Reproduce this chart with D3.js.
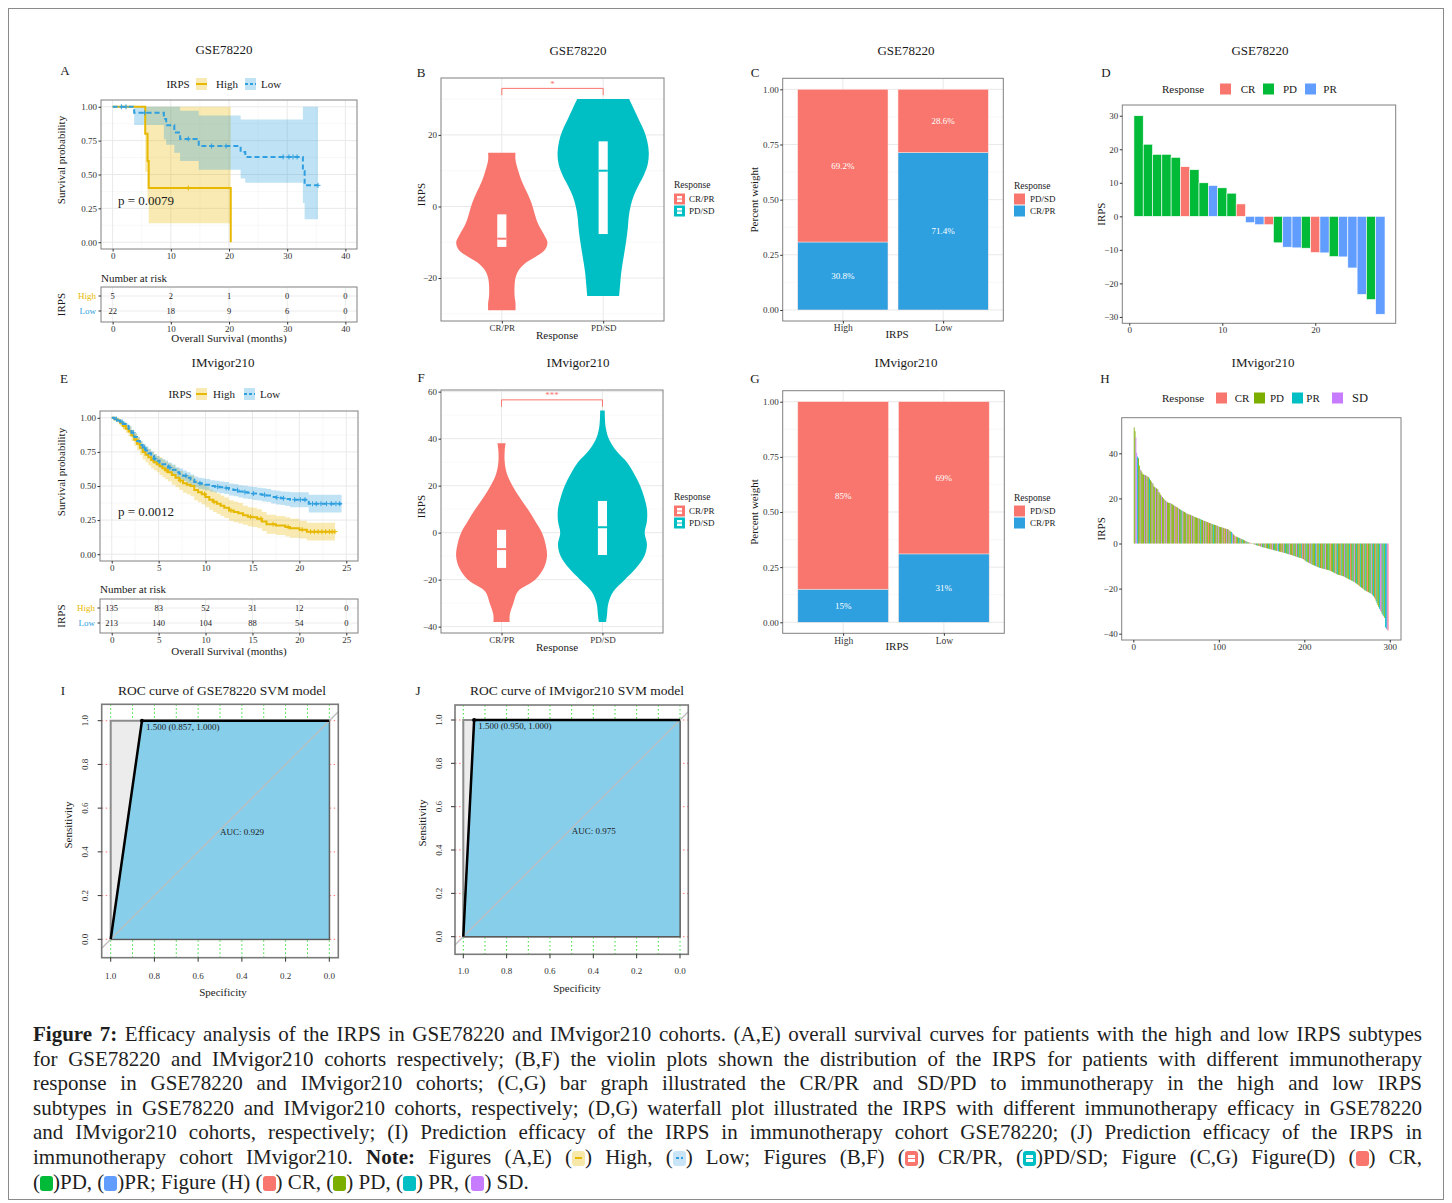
<!DOCTYPE html>
<html>

<head>
    <meta charset='utf-8' />
    <title>Figure 7 - IRPS efficacy in GSE78220 and IMvigor210</title>
    <script src="https://d3js.org/d3.v7.min.js"></script>
    <style>
        body {
            margin: 0;
            background: #fff;
            font-family: 'Liberation Serif', 'Times New Roman', serif;
        }

        #fig {
            position: relative;
            width: 1452px;
            height: 1203px;
        }

        #fig svg {
            position: absolute;
            left: 0;
            top: 0;
        }

        #caption {
            position: absolute;
            left: 33px;
            top: 1022px;
            width: 1389px;
            font-size: 21px;
            line-height: 24.6px;
            color: #1e1e1e;
        }

        #caption div {
            text-align: justify;
            text-align-last: justify;
            white-space: nowrap;
        }

        #caption div.last {
            text-align-last: left;
        }

        .ic {
            display: inline-block;
            position: relative;
            width: 13px;
            height: 15px;
            border-radius: 3px;
            vertical-align: -2px;
        }

        .ic i {
            position: absolute;
            left: 3px;
            top: 4px;
            width: 7px;
            height: 7px;
        }
    </style>
</head>

<body>
    <div id="fig">
        <div id="caption">
            <div><b>Figure 7:</b> Efficacy analysis of the IRPS in GSE78220 and IMvigor210 cohorts. (A,E) overall survival curves for patients with the high and low IRPS subtypes</div>
            <div>for GSE78220 and IMvigor210 cohorts respectively; (B,F) the violin plots shown the distribution of the IRPS for patients with different immunotherapy</div>
            <div>response in GSE78220 and IMvigor210 cohorts; (C,G) bar graph illustrated the CR/PR and SD/PD to immunotherapy in the high and low IRPS</div>
            <div>subtypes in GSE78220 and IMvigor210 cohorts, respectively; (D,G) waterfall plot illustrated the IRPS with different immunotherapy efficacy in GSE78220</div>
            <div>and IMvigor210 cohorts, respectively; (I) Prediction efficacy of the IRPS in immunotherapy cohort GSE78220; (J) Prediction efficacy of the IRPS in</div>
            <div>immunotherapy cohort IMvigor210. <b>Note:</b> Figures (A,E) (<span class="ic" style="background:#f7e8aa"><i style="top:6px;height:2px;background:#E7B800"></i></span>) High, (<span class="ic" style="background:#c9e4f6"><i style="top:6px;height:2px;background:repeating-linear-gradient(to right,#2E9FDF 0 3px,transparent 3px 5px)"></i></span>) Low; Figures (B,F) (<span class="ic" style="background:#F8766D"><i style="background:linear-gradient(#fff 0 40%,#F8766D 40% 60%,#fff 60%)"></i></span>) CR/PR, (<span class="ic" style="background:#00BFC4"><i style="background:linear-gradient(#fff 0 40%,#00BFC4 40% 60%,#fff 60%)"></i></span>)PD/SD; Figure (C,G) Figure(D) (<span class="ic" style="background:#F8766D"></span>) CR,</div>
            <div class="last">(<span class="ic" style="background:#00BA38"></span>)PD, (<span class="ic" style="background:#619CFF"></span>)PR; Figure (H) (<span class="ic" style="background:#F8766D"></span>) CR, (<span class="ic" style="background:#7CAE00"></span>) PD, (<span class="ic" style="background:#00BFC4"></span>) PR, (<span class="ic" style="background:#C77CFF"></span>) SD.</div>
        </div>
    </div>

    <script>
        // ---------------- data ----------------

        // A: GSE78220 overall survival (step curves)
        var kmAHighTime = [0, 5.6, 6.0, 6.2, 20.3]
        var kmAHighSurv = [1, 0.8, 0.6, 0.4, 0]
        var kmAHighLow = [1, 0.52, 0.3, 0.14, 0]
        var kmAHighUp = [1, 1, 1, 1, 0]
        var kmAHighCens = [13.0]
        var kmALowTime = [0, 3.7, 8.8, 9.2, 10.6, 11.6, 14.8, 22.0, 22.8, 32.7, 33.0]
        var kmALowSurv = [1, 0.955, 0.909, 0.864, 0.81, 0.763, 0.71, 0.667, 0.63, 0.525, 0.42]
        var kmALowLow = [1, 0.865, 0.76, 0.72, 0.66, 0.6, 0.535, 0.47, 0.44, 0.29, 0.17]
        var kmALowUp = [1, 1, 1, 1, 1, 0.97, 0.935, 0.906, 0.906, 1, 1]
        var kmALowCens = [1.5, 2.3, 5.5, 13.0, 17.0, 19.5, 29.3, 30.3, 31.0, 31.7, 35.3]
        var kmARiskTimes = [0, 10, 20, 30, 40]
        var kmARiskHigh = [5, 2, 1, 0, 0]
        var kmARiskLow = [22, 18, 9, 6, 0]

        // E: IMvigor210 overall survival
        var kmEHighTime = [0, 0.3, 0.6, 0.9, 1.2, 1.5, 1.8, 2.1, 2.4, 2.7, 3.0, 3.3, 3.6, 3.9, 4.2, 4.5, 4.8, 5.1, 5.4, 5.7,
            6.0, 6.4, 6.8, 7.2, 7.6, 8.0, 8.4, 8.8, 9.2, 9.6, 10.0, 10.4, 10.8, 11.2, 11.6, 12.0, 12.5, 13.0, 13.5, 14.0,
            14.5, 15.0, 15.5, 16.0, 16.5, 17.5, 18.5, 19.0, 20.0, 20.8]
        var kmEHighSurv = [1, 0.99, 0.98, 0.96, 0.94, 0.92, 0.90, 0.87, 0.84, 0.81, 0.78, 0.75, 0.73, 0.71, 0.69, 0.675, 0.66, 0.645, 0.63, 0.615,
            0.60, 0.58, 0.56, 0.54, 0.52, 0.51, 0.50, 0.47, 0.455, 0.44, 0.42, 0.40, 0.385, 0.37, 0.355, 0.34, 0.32, 0.31, 0.30, 0.285,
            0.275, 0.27, 0.26, 0.24, 0.22, 0.21, 0.20, 0.19, 0.18, 0.165]
        var kmEHighHalf = [0, 0.01, 0.015, 0.02, 0.025, 0.03, 0.035, 0.04, 0.045, 0.05, 0.05, 0.055, 0.055, 0.06, 0.06, 0.06, 0.06, 0.065, 0.065, 0.065,
            0.065, 0.07, 0.07, 0.07, 0.07, 0.07, 0.075, 0.075, 0.075, 0.075, 0.075, 0.075, 0.075, 0.075, 0.075, 0.075, 0.075, 0.075, 0.075, 0.07,
            0.07, 0.07, 0.07, 0.07, 0.07, 0.07, 0.07, 0.07, 0.065, 0.065]
        var kmEHighCens = [1.3, 2.6, 4.4, 5.8, 7.3, 9.9, 10.9, 12.7, 14.8, 15.9, 17.2, 18.8, 20.3, 21.2, 21.6, 22.0, 22.4, 22.8, 23.2, 23.5, 23.8]
        var kmELowTime = [0, 0.3, 0.6, 0.9, 1.2, 1.5, 1.8, 2.1, 2.4, 2.7, 3.0, 3.3, 3.6, 3.9, 4.2, 4.5, 4.8, 5.1, 5.4, 5.7,
            6.0, 6.4, 6.8, 7.2, 7.6, 8.0, 8.4, 8.8, 9.2, 9.6, 10.0, 10.5, 11.0, 11.5, 12.0, 12.5, 13.0, 13.5, 14.0, 14.5,
            15.0, 15.5, 16.0, 16.5, 17.0, 17.5, 18.0, 18.5, 19.0, 21.0]
        var kmELowSurv = [1, 0.99, 0.98, 0.97, 0.955, 0.94, 0.92, 0.89, 0.86, 0.83, 0.80, 0.78, 0.76, 0.74, 0.72, 0.70, 0.685, 0.67, 0.66, 0.65,
            0.635, 0.62, 0.60, 0.59, 0.575, 0.56, 0.545, 0.53, 0.52, 0.515, 0.51, 0.50, 0.495, 0.49, 0.485, 0.475, 0.47, 0.46, 0.455, 0.45,
            0.445, 0.44, 0.435, 0.43, 0.42, 0.415, 0.41, 0.405, 0.40, 0.37]
        var kmELowHalf = [0, 0.008, 0.01, 0.012, 0.015, 0.018, 0.02, 0.022, 0.025, 0.027, 0.03, 0.03, 0.032, 0.033, 0.034, 0.035, 0.035, 0.036, 0.036, 0.037,
            0.037, 0.038, 0.038, 0.039, 0.039, 0.04, 0.04, 0.04, 0.041, 0.041, 0.042, 0.042, 0.043, 0.043, 0.044, 0.044, 0.045, 0.045, 0.046, 0.046,
            0.047, 0.047, 0.048, 0.048, 0.049, 0.05, 0.05, 0.052, 0.055, 0.065]
        var kmELowCens = [0.5, 1.1, 2.3, 3.5, 4.6, 6.2, 7.9, 9.4, 11.3, 12.2, 13.4, 14.2, 15.1, 16.3, 17.6, 18.3, 19.5, 20.1, 20.6, 21.4,
            21.8, 22.3, 22.9, 23.4, 23.9, 24.3]
        var kmERiskTimes = [0, 5, 10, 15, 20, 25]
        var kmERiskHigh = [135, 83, 52, 31, 12, 0]
        var kmERiskLow = [213, 140, 104, 88, 54, 0]

        // B / F: violin outlines [IRPS, relative half width] and box stats [q1, median, q3]
        var respGroups = ["CR/PR", "PD/SD"]
        var vioBCR = [[15, 0.30], [13, 0.30], [10, 0.36], [7, 0.44], [4, 0.55], [1, 0.65], [-2, 0.72], [-5, 0.8], [-8, 0.93], [-10, 1.0],
            [-12, 0.95], [-14, 0.75], [-16, 0.5], [-18, 0.36], [-20, 0.3], [-22, 0.28], [-25, 0.28], [-27, 0.3], [-29, 0.3]]
        var vioBPD = [[30, 0.57], [27, 0.68], [24, 0.79], [21, 0.9], [18, 0.97], [15, 1.0], [12, 0.98], [9, 0.9], [6, 0.78], [3, 0.67],
            [0, 0.6], [-3, 0.56], [-6, 0.54], [-10, 0.5], [-14, 0.45], [-18, 0.4], [-22, 0.37], [-25, 0.35]]
        var boxB = [[-11.3, -9.0, -2.2], [-7.7, 10.0, 18.2]]
        var vioFCR = [[38, 0.09], [35, 0.07], [30, 0.07], [25, 0.12], [20, 0.24], [15, 0.4], [10, 0.58], [5, 0.74], [0, 0.89], [-5, 0.97],
            [-10, 1.0], [-15, 0.93], [-20, 0.74], [-25, 0.36], [-30, 0.26], [-35, 0.18], [-38, 0.18]]
        var vioFPD = [[52, 0.05], [45, 0.07], [40, 0.14], [35, 0.3], [30, 0.54], [25, 0.7], [20, 0.83], [15, 0.92], [10, 0.98], [5, 0.98],
            [0, 0.93], [-5, 0.98], [-10, 0.92], [-15, 0.74], [-20, 0.49], [-25, 0.24], [-30, 0.13], [-35, 0.1], [-38, 0.08]]
        var boxF = [[-15.0, -7.0, 1.2], [-9.5, 2.3, 13.5]]

        // C / G: response proportions by IRPS group
        var irpsGroups = ["High", "Low"]
        var cCRPR = [0.308, 0.714]
        var cPDSD = [0.692, 0.286]
        var cLabCRPR = ["30.8%", "71.4%"]
        var cLabPDSD = ["69.2%", "28.6%"]
        var gCRPR = [0.15, 0.31]
        var gPDSD = [0.85, 0.69]
        var gLabCRPR = ["15%", "31%"]
        var gLabPDSD = ["85%", "69%"]

        // D: GSE78220 waterfall
        var dValues = [30.0, 21.5, 18.5, 18.5, 17.6, 14.8, 13.9, 10.0, 9.2, 8.5, 6.9, 3.7, -1.9, -2.5, -2.5, -7.9, -9.2, -9.4, -9.5, -10.8,
            -10.9, -12.0, -12.1, -15.4, -23.3, -24.8, -29.2]
        var dResp = ["PD", "PD", "PD", "PD", "PD", "CR", "PD", "PD", "PR", "PD", "PD", "CR", "PR", "PR", "CR", "PD", "PR", "PR", "PD", "CR",
            "PR", "PD", "PR", "PR", "PR", "PD", "PR"]

        // H: IMvigor210 waterfall (298 patients)
        var hValues = [
            51.5, 49.8, 47.0, 40.2, 38.5, 37.9, 34.6, 32.8, 32.4, 31.6,
            30.9, 30.6, 30.5, 30.3, 30.1, 29.9, 29.6, 29.4, 28.8, 28.1,
            27.5, 26.9, 26.6, 25.4, 25.0, 24.8, 24.5, 24.2, 23.7, 22.9,
            22.3, 21.6, 21.2, 20.6, 20.1, 19.6, 19.3, 19.0, 18.6, 18.3,
            18.1, 18.0, 17.9, 17.8, 17.6, 17.3, 17.0, 16.8, 16.5, 16.3,
            16.2, 15.9, 15.6, 15.3, 15.0, 14.8, 14.6, 14.4, 14.2, 14.0,
            13.7, 13.4, 13.2, 13.0, 12.9, 12.8, 12.7, 12.5, 12.3, 12.1,
            11.9, 11.8, 11.6, 11.5, 11.3, 11.2, 11.1, 10.9, 10.7, 10.5,
            10.4, 10.2, 10.0, 9.9, 9.8, 9.6, 9.5, 9.3, 9.1, 9.0,
            8.8, 8.7, 8.5, 8.4, 8.3, 8.2, 8.1, 7.9, 7.7, 7.5,
            7.4, 7.3, 7.2, 7.1, 7.0, 6.8, 6.7, 6.6, 6.5, 6.4,
            6.2, 5.9, 5.6, 5.3, 5.1, 4.6, 4.1, 3.6, 3.3, 3.1,
            3.0, 2.8, 2.6, 2.5, 2.3, 2.1, 1.9, 1.8, 1.6, 1.4,
            1.2, 1.0, 0.8, 0.6, 0.5, 0.4, 0.3, 0.2, 0.1, -0.1,
            -0.3, -0.5, -0.6, -0.8, -0.9, -1.0, -1.1, -1.2, -1.3, -1.5,
            -1.6, -1.7, -1.8, -1.9, -2.0, -2.1, -2.2, -2.3, -2.4, -2.5,
            -2.6, -2.7, -2.8, -2.9, -3.0, -3.1, -3.2, -3.3, -3.4, -3.5,
            -3.6, -3.7, -3.8, -3.9, -4.0, -4.1, -4.2, -4.3, -4.4, -4.6,
            -4.7, -4.8, -4.9, -5.0, -5.1, -5.3, -5.4, -5.5, -5.6, -5.8,
            -5.9, -6.0, -6.1, -6.3, -6.4, -6.5, -6.6, -6.8, -7.0, -7.3,
            -7.6, -7.9, -8.1, -8.3, -8.5, -8.7, -8.9, -9.1, -9.3, -9.5,
            -9.6, -9.8, -10.0, -10.2, -10.3, -10.5, -10.6, -10.8, -10.9, -11.0,
            -11.1, -11.2, -11.3, -11.4, -11.5, -11.6, -11.7, -11.8, -11.9, -12.0,
            -12.2, -12.4, -12.6, -12.8, -13.0, -13.2, -13.4, -13.6, -13.8, -13.9,
            -14.0, -14.1, -14.2, -14.3, -14.4, -14.6, -14.8, -15.0, -15.2, -15.4,
            -15.6, -15.8, -16.0, -16.2, -16.4, -16.6, -16.8, -17.0, -17.2, -17.5,
            -17.8, -18.1, -18.4, -18.7, -19.0, -19.3, -19.6, -19.9, -20.2, -20.5,
            -20.8, -21.0, -21.2, -21.4, -21.6, -21.8, -22.0, -22.2, -22.5, -22.9,
            -23.4, -24.0, -24.8, -25.6, -26.5, -27.3, -28.2, -29.0, -29.8, -30.5,
            -31.2, -31.8, -32.3, -33.0, -37.2, -37.8, -38.3, -38.6]
        // C = CR, P = PD, R = PR, S = SD
        var hResp = ("PPSSRPPSPP" + "PPSPPSPPRP" + "PSPPPSPPSP" + "PPSPPPSPSP" + "PPPSPPPSPC" +
            "PPSPPRPSPP" + "PSPPPCPSPP" + "SPPPPSPPRP" + "PSPPSPPCPP" + "SPPRPPSPPS" +
            "PPPSPPCPSP" + "PSPPRSPPSC" + "PPRPSPPRPP" + "SPRPPSCPPR" + "PPSPRPPCPS" +
            "PRPPSPPRPP" + "CPSPRPPPSR" + "PPCPPSPRPP" + "RPSPPCPRPP" + "SPRPPPRCPS" +
            "PPRPPSPCRP" + "PPRSPPPRPC" + "PPRPSPPRPP" + "CPPRPPSPRP" + "PCPRPPSPRP" +
            "PPRCPPRPSP" + "RPPCPRPPSP" + "PRPCPPRPSP" + "RPCPRPPRSC" + "RPRPRRSC").split("")

        // I / J: ROC curves
        var rocISpec = [1.0, 0.857, 0.0]
        var rocISens = [0.0, 1.0, 1.0]
        var rocJSpec = [1.0, 0.950, 0.0]
        var rocJSens = [0.0, 1.0, 1.0]

        // ---------------- drawing ----------------
        var serif = "'Liberation Serif', 'Times New Roman', serif"
        var svg = d3.select("#fig").append("svg").attr("width", 1452).attr("height", 1203)
            .attr("font-family", serif)

        svg.append("rect").attr("x", 8.5).attr("y", 8.5).attr("width", 1435).attr("height", 1191)
            .attr("fill", "none").attr("stroke", "#8a8a8a")

        function label(g, x, y, s, size, opt) {
            opt = opt || {}
            var t = g.append("text").attr("x", x).attr("y", y).attr("dy", "0.35em")
                .attr("text-anchor", opt.anchor || "middle")
                .attr("font-size", size).attr("fill", opt.fill || "#1a1a1a")
                .text(s)
            if (opt.rotate) t.attr("transform", "rotate(" + opt.rotate + "," + x + "," + y + ")")
            if (opt.weight) t.attr("font-weight", opt.weight)
            return t
        }

        function gridLines(g, x, y, xMaj, xMin, yMaj, yMin) {
            var x0 = x.range()[0], x1 = x.range()[1], yb = y.range()[0], yt = y.range()[1]
            function add(vals, vertical, col, w) {
                g.append("g").selectAll("line").data(vals).join("line")
                    .attr("x1", function (d) { return vertical ? x(d) : x0 })
                    .attr("x2", function (d) { return vertical ? x(d) : x1 })
                    .attr("y1", function (d) { return vertical ? yt : y(d) })
                    .attr("y2", function (d) { return vertical ? yb : y(d) })
                    .attr("stroke", col).attr("stroke-width", w)
            }
            add(xMin, true, "#f4f4f4", 0.6)
            add(yMin, false, "#f4f4f4", 0.6)
            add(xMaj, true, "#e9e9e9", 1)
            add(yMaj, false, "#e9e9e9", 1)
        }

        function boxRect(g, x, y, col, w) {
            var x0 = x.range()[0], x1 = x.range()[1], yb = y.range()[0], yt = y.range()[1]
            g.append("rect").attr("x", x0).attr("y", yt).attr("width", x1 - x0).attr("height", yb - yt)
                .attr("fill", "none").attr("stroke", col || "#808080").attr("stroke-width", w || 1)
        }

        function axisL(g, y, xpos, vals, fmt, size) {
            var a = g.append("g").attr("transform", "translate(" + xpos + ",0)")
                .call(d3.axisLeft(y).tickValues(vals).tickSize(2.5).tickPadding(1.5).tickFormat(fmt))
            a.select(".domain").remove()
            a.attr("font-family", serif).attr("font-size", size || 9)
            a.selectAll("line").attr("stroke", "#333")
            a.selectAll("text").attr("fill", "#333")
            return a
        }

        function axisB(g, x, ypos, vals, fmt, size) {
            var a = g.append("g").attr("transform", "translate(0," + ypos + ")")
                .call(d3.axisBottom(x).tickValues(vals).tickSize(2.5).tickPadding(1).tickFormat(fmt))
            a.select(".domain").remove()
            a.attr("font-family", serif).attr("font-size", size || 9)
            a.selectAll("line").attr("stroke", "#333")
            a.selectAll("text").attr("fill", "#333")
            return a
        }

        // ---------- Kaplan-Meier panels ----------
        function drawKM(p) {
            var g = svg.append("g")
            var x = d3.scaleLinear().domain(p.xDom).range([p.box[0], p.box[1]])
            var y = d3.scaleLinear().domain([-0.05, 1.05]).range([p.box[3], p.box[2]])
            var st = p.xTicks[1] - p.xTicks[0]
            label(g, p.title[0], p.title[1], p.titleText, 13)
            label(g, p.letter[0], p.letter[1], p.letterText, 13)

            gridLines(g, x, y, p.xTicks, p.xTicks.slice(1).map(function (v) { return v - st / 2 }),
                [0, 0.25, 0.5, 0.75, 1], [0.125, 0.375, 0.625, 0.875])

            function rows(s) {
                var r = s.t.map(function (t, i) { return { t: t, s: s.s[i], lo: s.lo[i], hi: s.hi[i] } })
                var last = r[r.length - 1]
                r.push({ t: s.end, s: last.s, lo: last.lo, hi: last.hi })
                return r
            }
            var band = d3.area().curve(d3.curveStepAfter)
                .x(function (d) { return x(d.t) }).y0(function (d) { return y(d.lo) }).y1(function (d) { return y(d.hi) })
            var line = d3.line().curve(d3.curveStepAfter)
                .x(function (d) { return x(d.t) }).y(function (d) { return y(d.s) })

            p.series.forEach(function (s) {
                g.append("path").attr("d", band(rows(s))).attr("fill", s.color).attr("fill-opacity", 0.3)
            })
            p.series.forEach(function (s) {
                g.append("path").attr("d", line(rows(s))).attr("fill", "none").attr("stroke", s.color)
                    .attr("stroke-width", 2).attr("stroke-dasharray", s.dash || null)
                var at = function (t) { return s.s[d3.bisectRight(s.t, t) - 1] }
                g.append("path").attr("d", s.cens.map(function (t) {
                    return "M" + (x(t) - 2.5) + "," + y(at(t)) + "h5M" + x(t) + "," + (y(at(t)) - 2.5) + "v5"
                }).join("")).attr("stroke", s.color).attr("stroke-width", 1)
            })
            boxRect(g, x, y)
            axisL(g, y, p.box[0], [0, 0.25, 0.5, 0.75, 1], d3.format(".2f"))
            axisB(g, x, p.box[3], p.xTicks, d3.format("d"))
            label(g, p.ytitle[0], p.ytitle[1], "Survival probability", 11, { rotate: -90 })
            label(g, p.pval[0], p.pval[1], p.pText, 13)

            // legend
            label(g, p.leg.irps, p.leg.y, "IRPS", 11)
            p.series.forEach(function (s, k) {
                var sx = p.leg.sw[k]
                g.append("rect").attr("x", sx).attr("y", p.leg.y - 6).attr("width", 11).attr("height", 12)
                    .attr("fill", s.color).attr("fill-opacity", 0.3)
                g.append("line").attr("x1", sx).attr("x2", sx + 11).attr("y1", p.leg.y).attr("y2", p.leg.y)
                    .attr("stroke", s.color).attr("stroke-width", 2).attr("stroke-dasharray", s.dash ? "3,2" : null)
                label(g, p.leg.tx[k], p.leg.y, s.name, 11)
            })

            // risk table
            label(g, p.box[0], p.riskTitle, "Number at risk", 11, { anchor: "start" })
            g.append("g").selectAll("line").data(p.riskTimes).join("line")
                .attr("x1", function (d) { return x(d) }).attr("x2", function (d) { return x(d) })
                .attr("y1", p.risk[0]).attr("y2", p.risk[1]).attr("stroke", "#ececec")
            g.append("g").selectAll("line").data(p.rowY).join("line")
                .attr("x1", p.box[0]).attr("x2", p.box[1]).attr("y1", function (d) { return d }).attr("y2", function (d) { return d })
                .attr("stroke", "#ececec")
            g.append("rect").attr("x", p.box[0]).attr("y", p.risk[0]).attr("width", p.box[1] - p.box[0])
                .attr("height", p.risk[1] - p.risk[0]).attr("fill", "none").attr("stroke", "#808080")
            p.series.forEach(function (s, k) {
                var ry = p.rowY[k]
                s.risk.forEach(function (n, i) { label(g, x(p.riskTimes[i]), ry, n, 8.5, { fill: "#222" }) })
                g.append("line").attr("x1", p.box[0] - 2.5).attr("x2", p.box[0]).attr("y1", ry).attr("y2", ry).attr("stroke", "#333")
                label(g, p.box[0] - 5, ry, s.name, 9, { anchor: "end", fill: s.color })
            })
            axisB(g, x, p.risk[1], p.riskTimes, d3.format("d"))
            label(g, p.ytitle[0], (p.risk[0] + p.risk[1]) / 2, "IRPS", 11, { rotate: -90 })
            label(g, (p.box[0] + p.box[1]) / 2, p.xtitle, "Overall Survival (months)", 11)
        }

        var yellow = "#E7B800", blue = "#2E9FDF"

        drawKM({
            titleText: "GSE78220", title: [224, 49], letterText: "A", letter: [65, 70],
            box: [101, 357, 100, 249], xDom: [-2, 42], xTicks: [0, 10, 20, 30, 40],
            ytitle: [61, 160], pval: [146, 200], pText: "p = 0.0079",
            leg: { y: 84, irps: 178, sw: [196, 245], tx: [227, 271] },
            riskTitle: 278, risk: [287, 322], rowY: [296, 311], riskTimes: kmARiskTimes, xtitle: 338,
            series: [
                { name: "High", color: yellow, t: kmAHighTime, s: kmAHighSurv, lo: kmAHighLow, hi: kmAHighUp, end: 20.3, cens: kmAHighCens, risk: kmARiskHigh },
                { name: "Low", color: blue, dash: "5,3", t: kmALowTime, s: kmALowSurv, lo: kmALowLow, hi: kmALowUp, end: 35.3, cens: kmALowCens, risk: kmARiskLow }
            ]
        })

        drawKM({
            titleText: "IMvigor210", title: [223, 362], letterText: "E", letter: [64, 378],
            box: [100, 358, 411, 561], xDom: [-1.25, 26.25], xTicks: [0, 5, 10, 15, 20, 25],
            ytitle: [61, 472], pval: [146, 511], pText: "p = 0.0012",
            leg: { y: 394, irps: 180, sw: [196, 244], tx: [224, 270] },
            riskTitle: 589, risk: [599, 633], rowY: [608, 623], riskTimes: kmERiskTimes, xtitle: 651,
            series: [
                {
                    name: "High", color: yellow, t: kmEHighTime, s: kmEHighSurv, end: 23.8, cens: kmEHighCens, risk: kmERiskHigh,
                    lo: kmEHighSurv.map(function (v, i) { return v - kmEHighHalf[i] }), hi: kmEHighSurv.map(function (v, i) { return v + kmEHighHalf[i] })
                },
                {
                    name: "Low", color: blue, dash: "5,3", t: kmELowTime, s: kmELowSurv, end: 24.5, cens: kmELowCens, risk: kmERiskLow,
                    lo: kmELowSurv.map(function (v, i) { return v - kmELowHalf[i] }), hi: kmELowSurv.map(function (v, i) { return v + kmELowHalf[i] })
                }
            ]
        })

        // ---------- violin panels ----------
        var respColors = ["#F8766D", "#00BFC4"]

        function drawViolin(p) {
            var g = svg.append("g")
            var x = d3.scaleLinear().domain([0.4, 2.6]).range([p.box[0], p.box[1]])
            var y = d3.scaleLinear().domain(p.yDom).range([p.box[3], p.box[2]])
            label(g, p.title[0], p.title[1], p.titleText, 13)
            label(g, p.letter[0], p.letter[1], p.letterText, 13)
            var st = p.yTicks[1] - p.yTicks[0]
            var yMin = p.yTicks.map(function (v) { return v - st / 2 }).concat([p.yTicks[p.yTicks.length - 1] + st / 2])
                .filter(function (v) { return v > p.yDom[0] && v < p.yDom[1] })
            gridLines(g, x, y, [1, 2], [], p.yTicks, yMin)

            p.shapes.forEach(function (prof, k) {
                var cx = k + 1
                var area = d3.area().curve(d3.curveCatmullRom)
                    .y(function (d) { return y(d[0]) })
                    .x0(function (d) { return x(cx - d[1] * 0.45) })
                    .x1(function (d) { return x(cx + d[1] * 0.45) })
                g.append("path").attr("d", area(prof)).attr("fill", respColors[k])
                var b = p.boxes[k], bw = 0.045
                g.append("rect").attr("x", x(cx - bw)).attr("width", x(cx + bw) - x(cx - bw))
                    .attr("y", y(b[2])).attr("height", y(b[0]) - y(b[2])).attr("fill", "#fff")
                g.append("line").attr("x1", x(cx - bw)).attr("x2", x(cx + bw)).attr("y1", y(b[1])).attr("y2", y(b[1]))
                    .attr("stroke", respColors[k]).attr("stroke-width", 2)
            })

            // significance bracket
            g.append("path").attr("d", "M" + x(1) + "," + y(p.bracket[1]) + "V" + y(p.bracket[0]) + "H" + x(2) + "V" + y(p.bracket[1]))
                .attr("fill", "none").attr("stroke", "#F8766D").attr("stroke-width", 1)
            label(g, x(1.5), y(p.bracket[0]) - 5, p.stars, 9, { fill: "#F8766D" })

            boxRect(g, x, y)
            axisL(g, y, p.box[0], p.yTicks, d3.format("d"))
            axisB(g, x, p.box[3], [1, 2], function (d) { return respGroups[d - 1] })
            label(g, 421, (p.box[2] + p.box[3]) / 2 - 5, "IRPS", 11, { rotate: -90 })
            label(g, 557, p.xtitle, "Response", 11)

            label(g, 674, p.legY[0], "Response", 9.5, { anchor: "start" })
            respGroups.forEach(function (r, k) {
                var ly = p.legY[k + 1]
                g.append("rect").attr("x", 674).attr("y", ly - 5.5).attr("width", 11).attr("height", 11).attr("fill", respColors[k])
                g.append("rect").attr("x", 677).attr("y", ly - 3).attr("width", 5).attr("height", 6).attr("fill", "#fff")
                g.append("line").attr("x1", 677).attr("x2", 682).attr("y1", ly).attr("y2", ly).attr("stroke", respColors[k]).attr("stroke-width", 1)
                label(g, 689, ly, r, 9, { anchor: "start" })
            })
        }

        drawViolin({
            titleText: "GSE78220", title: [578, 50], letterText: "B", letter: [421, 72],
            box: [441, 664, 78, 321], yDom: [-32, 35.9], yTicks: [-20, 0, 20],
            shapes: [vioBCR, vioBPD], boxes: boxB, bracket: [33.0, 31.1], stars: "*",
            xtitle: 335, legY: [185, 199, 211]
        })
        drawViolin({
            titleText: "IMvigor210", title: [578, 362], letterText: "F", letter: [421, 377],
            box: [441, 663, 390, 633], yDom: [-42.7, 60.7], yTicks: [-40, -20, 0, 20, 40, 60],
            shapes: [vioFCR, vioFPD], boxes: boxF, bracket: [56.5, 53.6], stars: "***",
            xtitle: 647, legY: [497, 511, 523]
        })

        // ---------- stacked proportion bars ----------
        var stackColors = { pd: "#F8766D", cr: "#2E9FDF" }

        function drawStack(p) {
            var g = svg.append("g")
            var x = d3.scaleLinear().domain([0.4, 2.6]).range([p.box[0], p.box[1]])
            var y = d3.scaleLinear().domain([-0.05, 1.05]).range([p.box[3], p.box[2]])
            label(g, p.title[0], p.title[1], p.titleText, 13)
            label(g, p.letter[0], p.letter[1], p.letterText, 13)
            gridLines(g, x, y, [1, 2], [], [0, 0.25, 0.5, 0.75, 1], [0.125, 0.375, 0.625, 0.875])
            irpsGroups.forEach(function (grp, i) {
                var cx = i + 1, cr = p.crpr[i], pd = p.pdsd[i]
                g.append("rect").attr("x", x(cx - 0.45)).attr("width", x(cx + 0.45) - x(cx - 0.45))
                    .attr("y", y(cr)).attr("height", y(0) - y(cr)).attr("fill", stackColors.cr)
                    .attr("stroke", "#fde3df").attr("stroke-width", 0.5)
                g.append("rect").attr("x", x(cx - 0.45)).attr("width", x(cx + 0.45) - x(cx - 0.45))
                    .attr("y", y(cr + pd)).attr("height", y(cr) - y(cr + pd)).attr("fill", stackColors.pd)
                    .attr("stroke", "#fde3df").attr("stroke-width", 0.5)
                label(g, x(cx), y(cr / 2), p.labCR[i], 9, { fill: "#fff" })
                label(g, x(cx), y(cr + pd / 2), p.labPD[i], 9, { fill: "#fff" })
            })
            boxRect(g, x, y)
            axisL(g, y, p.box[0], [0, 0.25, 0.5, 0.75, 1], d3.format(".2f"))
            axisB(g, x, p.box[3], [1, 2], function (d) { return irpsGroups[d - 1] }, 9.5)
            label(g, 754, (p.box[2] + p.box[3]) / 2, "Percent weight", 11, { rotate: -90 })
            label(g, 897, p.xtitle, "IRPS", 11)
            label(g, 1014, p.legY[0], "Response", 9.5, { anchor: "start" })
            var keys = [["PD/SD", stackColors.pd], ["CR/PR", stackColors.cr]]
            keys.forEach(function (k, i) {
                var ly = p.legY[i + 1]
                g.append("rect").attr("x", 1014).attr("y", ly - 5.5).attr("width", 11).attr("height", 11).attr("fill", k[1])
                label(g, 1030, ly, k[0], 9, { anchor: "start" })
            })
        }

        drawStack({
            titleText: "GSE78220", title: [906, 50], letterText: "C", letter: [755, 72],
            box: [782.7, 1003.3, 78.3, 321], crpr: cCRPR, pdsd: cPDSD, labCR: cLabCRPR, labPD: cLabPDSD,
            xtitle: 334, legY: [186, 199, 211]
        })
        drawStack({
            titleText: "IMvigor210", title: [906, 362], letterText: "G", letter: [755, 378],
            box: [782.7, 1004.3, 390.7, 633.3], crpr: gCRPR, pdsd: gPDSD, labCR: gLabCRPR, labPD: gLabPDSD,
            xtitle: 646, legY: [498, 511, 523]
        })

        // ---------- waterfall panels ----------
        function drawWaterfall(p) {
            var g = svg.append("g")
            var x = d3.scaleLinear().domain(p.xDom).range([p.box[0], p.box[1]])
            var y = d3.scaleLinear().domain(p.yDom).range([p.box[3], p.box[2]])
            label(g, p.title[0], p.title[1], p.titleText, 13)
            label(g, p.letter[0], p.letter[1], p.letterText, 13)
            g.append("g").selectAll("rect").data(p.values).join("rect")
                .attr("x", function (d, i) { return x(i + 0.5) })
                .attr("width", x(1) - x(0))
                .attr("y", function (d) { return y(Math.max(0, d)) })
                .attr("height", function (d) { return Math.abs(y(d) - y(0)) })
                .attr("fill", function (d, i) { return p.colors[p.resp[i]] || p.colors.P })
                .attr("stroke", p.stroke || "none").attr("stroke-width", 0.6)
            boxRect(g, x, y)
            axisL(g, y, p.box[0], p.yTicks, d3.format("d"))
            axisB(g, x, p.box[3], p.xTicks, d3.format("d"))
            label(g, 1101, (p.box[2] + p.box[3]) / 2, "IRPS", 11, { rotate: -90 })
            label(g, 1183, p.leg.y, "Response", 11)
            p.leg.items.forEach(function (it) {
                g.append("rect").attr("x", it[1]).attr("y", p.leg.y - 5.5).attr("width", 11).attr("height", 11).attr("fill", p.colors[it[0]])
                label(g, it[2], p.leg.y, it[3], it[4] || 11)
            })
        }

        drawWaterfall({
            titleText: "GSE78220", title: [1260, 50], letterText: "D", letter: [1106, 72],
            box: [1122.3, 1395.7, 105, 323.3], xDom: [-0.75, 28.65], yDom: [-31.9, 33.2],
            yTicks: [-30, -20, -10, 0, 10, 20, 30], xTicks: [0, 10, 20],
            values: dValues, resp: dResp, stroke: "#ffffff",
            colors: { CR: "#F8766D", PD: "#00BA38", PR: "#619CFF", P: "#00BA38" },
            leg: { y: 89, items: [["CR", 1220, 1248, "CR"], ["PD", 1263, 1290, "PD"], ["PR", 1305, 1330, "PR"]] }
        })
        drawWaterfall({
            titleText: "IMvigor210", title: [1263, 362], letterText: "H", letter: [1105, 378],
            box: [1121.7, 1401, 417.7, 640], xDom: [-13.6, 313.1], yDom: [-42.8, 55.8],
            yTicks: [-40, -20, 0, 20, 40], xTicks: [0, 100, 200, 300],
            values: hValues, resp: hResp,
            colors: { C: "#F8766D", P: "#7CAE00", R: "#00BFC4", S: "#C77CFF" },
            leg: { y: 398, items: [["C", 1216, 1242, "CR"], ["P", 1254, 1277, "PD"], ["R", 1292, 1313, "PR"], ["S", 1332, 1360, "SD", 12.5]] }
        })

        // ---------- ROC panels ----------
        function drawROC(p) {
            var g = svg.append("g")
            var x = d3.scaleLinear().domain([1, 0]).range(p.sx)
            var y = d3.scaleLinear().domain([0, 1]).range(p.sy)
            var b = p.box
            label(g, p.letter[0], p.letter[1], p.letterText, 13)
            label(g, p.title[0], p.title[1], p.titleText, 13.5)

            // grid
            g.append("g").selectAll("line").data(d3.range(0, 11)).join("line")
                .attr("x1", function (d) { return x(d / 10) }).attr("x2", function (d) { return x(d / 10) })
                .attr("y1", b[2]).attr("y2", b[3]).attr("stroke", "#33dd33").attr("stroke-dasharray", "1.5,2.5")
            g.append("g").selectAll("line").data(d3.range(0, 6)).join("line")
                .attr("x1", b[0]).attr("x2", b[1]).attr("y1", function (d) { return y(d / 5) }).attr("y2", function (d) { return y(d / 5) })
                .attr("stroke", "#ff7777").attr("stroke-dasharray", "1.5,2.5")

            var pt = function (sp, se) { return x(sp) + "," + y(se) }
            g.append("polygon").attr("points", [pt(1, 0), pt(1, 1), pt(0, 1), pt(0, 0)].join(" "))
                .attr("fill", "#ececec").attr("stroke", "#8c8c8c").attr("stroke-width", 2)
            var aucPts = p.spec.map(function (s, i) { return pt(s, p.sens[i]) }).concat([pt(0, 0)])
            g.append("polygon").attr("points", aucPts.join(" ")).attr("fill", "#87CEEB")
                .attr("stroke", "#5a5a5a").attr("stroke-width", 1.2)
            g.append("line").attr("x1", b[0]).attr("y1", y(1 - x.invert(b[0])))
                .attr("x2", b[1]).attr("y2", y(1 - x.invert(b[1])))
                .attr("stroke", "#bdbdbd").attr("stroke-width", 1.3)
            g.append("path").attr("d", d3.line()(p.spec.map(function (s, i) { return [x(s), y(p.sens[i])] })))
                .attr("fill", "none").attr("stroke", "#000").attr("stroke-width", 2.5)
            g.append("circle").attr("cx", x(p.spec[1])).attr("cy", y(p.sens[1])).attr("r", 2).attr("fill", "#000")
            label(g, x(p.spec[1]) + 4, y(p.sens[1]) + 6, p.thrText, 9, { anchor: "start" })
            label(g, x(0.5), y(0.49), p.aucText, 9, { anchor: "start" })

            g.append("rect").attr("x", b[0]).attr("y", b[2]).attr("width", b[1] - b[0]).attr("height", b[3] - b[2])
                .attr("fill", "none").attr("stroke", "#7a7a7a").attr("stroke-width", 1.6)

            var ticks = [0, 0.2, 0.4, 0.6, 0.8, 1.0]
            ticks.forEach(function (t) {
                g.append("line").attr("x1", b[0] - 4).attr("x2", b[0]).attr("y1", y(t)).attr("y2", y(t)).attr("stroke", "#333")
                label(g, p.yLabX, y(t), d3.format(".1f")(t), 9, { rotate: -90, fill: "#333" })
                g.append("line").attr("x1", x(t)).attr("x2", x(t)).attr("y1", b[3]).attr("y2", b[3] + 4).attr("stroke", "#333")
                label(g, x(t), p.xLabY, d3.format(".1f")(t), 9, { fill: "#333" })
            })
            label(g, p.ytitle[0], p.ytitle[1], "Sensitivity", 11, { rotate: -90 })
            label(g, p.xtitle[0], p.xtitle[1], "Specificity", 11)
        }

        drawROC({
            letterText: "I", letter: [63, 690], titleText: "ROC curve of GSE78220 SVM model", title: [222, 690],
            box: [101.7, 338.3, 704.3, 957.7], sx: [110.7, 329.3], sy: [939.3, 720.7],
            spec: rocISpec, sens: rocISens, thrText: "1.500 (0.857, 1.000)", aucText: "AUC: 0.929",
            yLabX: 85, xLabY: 976, ytitle: [68, 825], xtitle: [223, 992]
        })
        drawROC({
            letterText: "J", letter: [418, 690], titleText: "ROC curve of IMvigor210 SVM model", title: [577, 690],
            box: [455, 688.3, 705, 954.3], sx: [463.3, 680], sy: [936.7, 720],
            spec: rocJSpec, sens: rocJSens, thrText: "1.500 (0.950, 1.000)", aucText: "AUC: 0.975",
            yLabX: 439, xLabY: 971, ytitle: [422, 823], xtitle: [577, 988]
        })
    </script>
</body>

</html>
